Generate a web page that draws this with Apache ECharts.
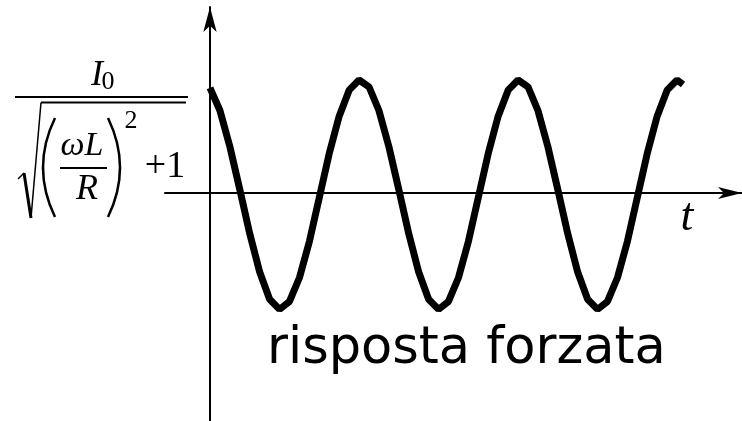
<!DOCTYPE html>
<html>
<head>
<meta charset="utf-8">
<script src="https://cdn.jsdelivr.net/npm/echarts@6/dist/echarts.min.js"></script>
<style>
  html, body { margin: 0; padding: 0; background: #ffffff; }
  #chart { width: 742px; height: 421px; }
</style>
</head>
<body>
<div id="chart"></div>
<script>
// Time samples (in periods of the driving signal) and the forced current response
const tValues = [
  0.0000, 0.0625, 0.1250, 0.1875, 0.2500, 0.3125, 0.3750, 0.4375,
  0.5000, 0.5625, 0.6250, 0.6875, 0.7500, 0.8125, 0.8750, 0.9375,
  1.0000, 1.0625, 1.1250, 1.1875, 1.2500, 1.3125, 1.3750, 1.4375,
  1.5000, 1.5625, 1.6250, 1.6875, 1.7500, 1.8125, 1.8750, 1.9375,
  2.0000, 2.0625, 2.1250, 2.1875, 2.2500, 2.3125, 2.3750, 2.4375,
  2.5000, 2.5625, 2.6250, 2.6875, 2.7500, 2.8125, 2.8750, 2.9375,
  2.9750
];
const iValues = [
  0.93, 0.73, 0.41, 0.03, -0.36, -0.70, -0.94, -1.03,
  -0.96, -0.75, -0.43, -0.04, 0.35, 0.68, 0.91, 1.00,
  0.94, 0.73, 0.41, 0.03, -0.36, -0.70, -0.94, -1.03,
  -0.96, -0.75, -0.43, -0.04, 0.35, 0.68, 0.91, 1.00,
  0.94, 0.73, 0.41, 0.03, -0.36, -0.70, -0.94, -1.03,
  -0.96, -0.75, -0.43, -0.04, 0.35, 0.68, 0.91, 1.00,
  0.96
];
const axisName = 't';
const caption = 'risposta forzata';

const serif = '"Liberation Serif", "Times New Roman", serif';
const black = '#000000';

const chart = echarts.init(document.getElementById('chart'), null, { renderer: 'canvas' });

function txt(text, x, y, size, family, italic, align) {
  return {
    type: 'text',
    silent: true,
    style: {
      text: text, x: x, y: y,
      fontSize: size, fontFamily: family, fontStyle: italic ? 'italic' : 'normal',
      fill: black, align: align || 'center', verticalAlign: 'middle'
    }
  };
}
function seg(x1, y1, x2, y2, w) {
  return {
    type: 'line',
    silent: true,
    shape: { x1: x1, y1: y1, x2: x2, y2: y2 },
    style: { stroke: black, lineWidth: w }
  };
}
function paren(x, yTop, yBot, cx) {
  return {
    type: 'bezierCurve',
    silent: true,
    shape: { x1: x, y1: yTop, x2: x, y2: yBot, cpx1: cx, cpy1: (yTop + yBot) / 2 },
    style: { stroke: black, lineWidth: 2.5, fill: null }
  };
}

// Amplitude formula I0 / sqrt((wL/R)^2 + 1) drawn beside the vertical axis
const formula = [
  txt('I', 97, 76, 36, serif, true),
  txt('0', 108, 82, 26, serif, false),
  seg(15, 97, 188, 97, 2),
  seg(41, 102.5, 186, 102.5, 2),
  seg(18, 179, 24, 173, 1.5),
  seg(24, 173, 31, 218, 3),
  seg(31, 218, 41, 102.5, 1.5),
  paren(55, 118, 217, 31),
  paren(108, 118, 217, 132),
  txt('\u03c9L', 82, 146, 34, serif, true),
  seg(60, 168, 107, 168, 2),
  txt('R', 87, 190, 36, serif, true),
  txt('2', 131, 121, 26, serif, false),
  txt('+1', 165, 167, 38, serif, false)
];

const option = {
  backgroundColor: '#ffffff',
  animation: false,
  grid: { left: 165, right: 0, top: 7, bottom: 0, containLabel: false },
  xAxis: {
    type: 'value',
    min: -0.283,
    max: 3.346,
    axisLine: {
      onZero: true,
      symbol: ['none', 'arrow'],
      symbolSize: [9, 24],
      lineStyle: { color: black, width: 2 }
    },
    axisTick: { show: false },
    axisLabel: { show: false },
    splitLine: { show: false }
  },
  yAxis: {
    type: 'value',
    min: -2.018,
    max: 1.646,
    axisLine: {
      onZero: true,
      symbol: ['none', 'arrow'],
      symbolSize: [10, 25],
      lineStyle: { color: black, width: 2 }
    },
    axisTick: { show: false },
    axisLabel: { show: false },
    splitLine: { show: false }
  },
  series: [{
    type: 'line',
    data: tValues.map((t, k) => [t, iValues[k]]),
    showSymbol: false,
    clip: false,
    lineStyle: { color: black, width: 7 }
  }],
  graphic: formula.concat([
    txt(axisName, 687, 218, 46, serif, true),
    txt(caption, 267, 350, 51, '"Comic Sans MS", "DejaVu Sans", sans-serif', false, 'left')
  ])
};

chart.setOption(option);
</script>
</body>
</html>
